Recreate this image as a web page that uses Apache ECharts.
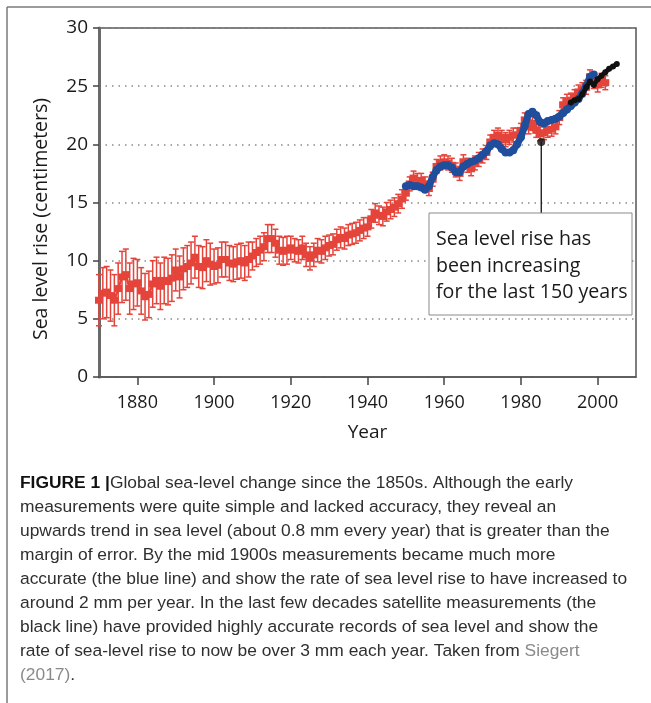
<!DOCTYPE html>
<html>
<head>
<meta charset="utf-8">
<script src="https://cdn.jsdelivr.net/npm/echarts@6/dist/echarts.min.js"></script>
<style>
html,body{margin:0;padding:0;background:#fff;}
#chart{width:651px;height:703px;}
</style>
</head>
<body>
<div id="chart"></div>
<script>
// ---- Data ----
const redYears = [];
for (let y = 1870; y <= 2002; y++) redYears.push(y);
const redValues = [
  6.6, 7.2, 7.3, 7.0, 6.6, 7.6, 8.6, 8.8, 7.6, 8.0,
  8.1, 7.4, 6.9, 7.1, 8.0, 8.3, 7.8, 8.3, 8.2, 8.5,
  9.2, 8.6, 9.3, 9.5, 9.8, 10.3, 9.5, 9.4, 10.0, 9.7,
  9.5, 9.6, 10.1, 10.1, 9.8, 9.7, 9.9, 10.0, 9.8, 10.1,
  10.4, 10.7, 10.9, 11.2, 11.9, 11.9, 11.5, 10.9, 10.8, 10.9,
  11.1, 10.9, 10.8, 11.1, 10.5, 10.2, 10.5, 10.9, 10.8, 11.1,
  11.3, 11.4, 11.8, 12.0, 11.9, 12.2, 12.3, 12.4, 12.6, 12.8,
  12.9, 13.6, 14.1, 13.9, 13.8, 14.2, 14.4, 14.6, 14.9, 15.3,
  15.8, 16.6, 17.1, 16.9, 16.9, 16.6, 16.2, 17.0, 18.1, 18.4,
  18.5, 18.4, 18.2, 17.8, 17.5, 18.5, 18.2, 17.9, 18.4, 18.7,
  19.0, 19.3, 20.2, 20.6, 20.8, 20.6, 20.4, 20.6, 20.8, 20.8,
  21.2, 22.1, 21.5, 21.8, 21.2, 20.9, 21.0, 21.2, 21.3, 21.5,
  22.3, 23.4, 23.7, 23.8, 24.1, 24.5, 24.7, 24.9, 25.8, 25.4,
  25.1, 25.5, 25.3
];
// half-width of the red error bars, one value per decade from the 1870s
const redErrorByDecade = [2.2, 2.0, 1.8, 1.5, 1.2, 1.0, 0.9, 0.8, 0.6, 0.6, 0.6, 0.6, 0.6, 0.6];

const blueYears = [];
for (let y = 1950; y <= 1999; y++) blueYears.push(y);
const blueValues = [
  16.4, 16.5, 16.4, 16.4, 16.3, 16.1, 16.4, 17.2, 17.8, 18.1,
  18.2, 18.2, 18.0, 17.6, 17.6, 18.1, 18.3, 18.5, 18.6, 18.8,
  19.1, 19.4, 19.9, 20.1, 20.0, 19.6, 19.3, 19.3, 19.5, 20.0,
  20.6, 21.6, 22.6, 22.8, 22.5, 21.9, 21.8, 22.0, 22.1, 22.2,
  22.4, 22.7, 23.0, 23.3, 23.6, 23.9, 24.4, 25.0, 25.8, 26.0
];

const blackYears = [1993, 1994, 1995, 1996, 1997, 1998, 1999, 2000, 2001, 2002, 2003, 2004, 2005];
const blackValues = [23.6, 23.8, 23.9, 24.3, 24.9, 25.4, 25.1, 25.6, 25.9, 26.2, 26.5, 26.7, 26.9];

const annotationPoint = [1985.3, 20.2];
const annotationBoxTop = 14.1;

const xTickLabels = [1880, 1900, 1920, 1940, 1960, 1980, 2000];
const yTickLabels = [0, 5, 10, 15, 20, 25, 30];

const captionLines = [
  '{b|FIGURE 1 |}Global sea-level change since the 1850s. Although the early',
  'measurements were quite simple and lacked accuracy, they reveal an',
  'upwards trend in sea level (about 0.8 mm every year) that is greater than the',
  'margin of error. By the mid 1900s measurements became much more',
  'accurate (the blue line) and show the rate of sea level rise to have increased to',
  'around 2 mm per year. In the last few decades satellite measurements (the',
  'black line) have provided highly accurate records of sea level and show the',
  'rate of sea-level rise to now be over 3 mm each year. Taken from {g|Siegert}',
  '{g|(2017)}.'
];
const annotationLines = ['Sea level rise has', 'been increasing', 'for the last 150 years'];

// ---- Build series data ----
const RED = '#e5443b', BLUE = '#1f4e9c', BLACK = '#111111';
const redPoints = redYears.map((y, i) => [y, redValues[i]]);
const redErr = redYears.map((y, i) => {
  const e = redErrorByDecade[Math.floor((y - 1870) / 10)];
  return [y, redValues[i] - e, redValues[i] + e];
});
const bluePoints = blueYears.map((y, i) => [y, blueValues[i]]);
const blackPoints = blackYears.map((y, i) => [y, blackValues[i]]);

const chart = echarts.init(document.getElementById('chart'), null, {renderer: 'canvas'});
const AX = '"Open Sans", "Noto Sans", sans-serif';
const CAP = '17.4px "Liberation Sans", Arial, sans-serif';

const graphics = [
  {type: 'line', shape: {x1: 7, y1: 7, x2: 651, y2: 7}, style: {stroke: '#7a7a7a', lineWidth: 1.5}, z: 1},
  {type: 'line', shape: {x1: 7, y1: 7, x2: 7, y2: 703}, style: {stroke: '#7a7a7a', lineWidth: 1.5}, z: 1},
  {type: 'text', x: 41, y: 219, rotation: Math.PI / 2,
   style: {text: 'Sea level rise (centimeters)', font: '19.5px ' + AX, fill: '#1a1a1a', align: 'center', verticalAlign: 'middle'}},
  {type: 'rect', shape: {x: 429, y: 213, width: 203, height: 102},
   style: {fill: '#fff', stroke: '#8a8a8a', lineWidth: 1}, z: 50},
  {type: 'text', x: 436, y: 226, z: 51,
   style: {text: annotationLines.join('\n'), font: '19.6px ' + AX, lineHeight: 26.7, fill: '#1a1a1a', align: 'left', verticalAlign: 'top'}}
];
captionLines.forEach((t, i) => {
  graphics.push({
    type: 'text', x: 20, y: 483 + i * 24,
    style: {
      text: t, font: CAP, fill: '#2f2f2f', verticalAlign: 'middle', align: 'left',
      rich: {
        b: {font: 'bold ' + CAP, fill: '#111', verticalAlign: 'middle'},
        g: {font: CAP, fill: '#8a8a8a', verticalAlign: 'middle'}
      }
    }
  });
});

chart.setOption({
  animation: false,
  backgroundColor: '#fff',
  grid: {left: 99, top: 28, right: 15, bottom: 326, show: true, borderColor: '#555', borderWidth: 1.5, backgroundColor: 'transparent'},
  xAxis: {
    type: 'value', min: 1870, max: 2010,
    name: 'Year', nameLocation: 'middle', nameGap: 46,
    nameTextStyle: {fontFamily: AX, fontSize: 19, color: '#1a1a1a'},
    axisLine: {lineStyle: {color: '#555', width: 1.5}},
    axisTick: {show: true, length: 8, inside: false, customValues: xTickLabels, lineStyle: {color: '#444', width: 1.5}},
    axisLabel: {customValues: xTickLabels, fontFamily: AX, fontSize: 18, color: '#1a1a1a', margin: 17,
      formatter: v => String(v)},
    splitLine: {show: false}
  },
  yAxis: {
    type: 'value', min: 0, max: 30, interval: 5,
    axisLine: {show: true, lineStyle: {color: '#6a6a6a', width: 3}},
    axisTick: {show: true, length: 6, lineStyle: {color: '#444', width: 1.5}},
    axisLabel: {fontFamily: AX, fontSize: 19, color: '#1a1a1a', margin: 11,
      formatter: v => yTickLabels.indexOf(v) >= 0 ? String(v) : ''},
    splitLine: {show: true, lineStyle: {color: '#8a8a8a', type: [1.5, 5], width: 1.5}}
  },
  series: [
    {
      type: 'custom', name: 'red error', z: 2,
      renderItem: (params, api) => {
        const x = api.value(0);
        const lo = api.coord([x, api.value(1)]);
        const hi = api.coord([x, api.value(2)]);
        const hw = 3;
        const st = {stroke: RED, lineWidth: 1.5};
        return {type: 'group', children: [
          {type: 'line', shape: {x1: lo[0], y1: lo[1], x2: hi[0], y2: hi[1]}, style: st},
          {type: 'line', shape: {x1: lo[0] - hw, y1: lo[1], x2: lo[0] + hw, y2: lo[1]}, style: st},
          {type: 'line', shape: {x1: hi[0] - hw, y1: hi[1], x2: hi[0] + hw, y2: hi[1]}, style: st}
        ]};
      },
      encode: {x: 0, y: [1, 2]},
      data: redErr
    },
    {
      type: 'line', name: 'red', z: 3, data: redPoints,
      symbol: 'rect', symbolSize: [8, 7], showSymbol: true,
      lineStyle: {color: RED, width: 2.5}, itemStyle: {color: RED}
    },
    {
      type: 'line', name: 'blue', z: 4, data: bluePoints,
      symbol: 'circle', symbolSize: 8, showSymbol: true,
      lineStyle: {color: BLUE, width: 7}, itemStyle: {color: BLUE}
    },
    {
      type: 'line', name: 'black', z: 5, data: blackPoints,
      symbol: 'circle', symbolSize: 6, showSymbol: true,
      lineStyle: {color: BLACK, width: 4.5}, itemStyle: {color: BLACK}
    },
    {
      type: 'line', name: 'pointer', z: 6,
      data: [annotationPoint, [annotationPoint[0], annotationBoxTop]],
      symbol: 'none', lineStyle: {color: '#111', width: 1.3}
    },
    {
      type: 'scatter', name: 'pointer dot', z: 7,
      data: [annotationPoint], symbol: 'circle', symbolSize: 8, itemStyle: {color: '#111'}
    }
  ],
  graphic: graphics
});
</script>
</body>
</html>
